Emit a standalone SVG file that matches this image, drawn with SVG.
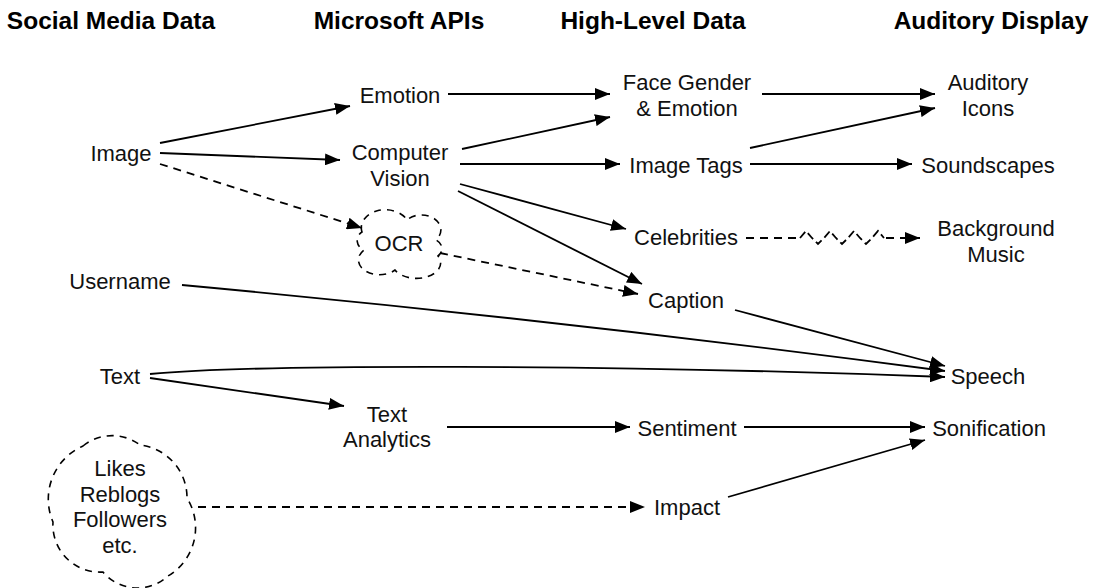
<svg xmlns="http://www.w3.org/2000/svg" width="1096" height="588" viewBox="0 0 1096 588">
<defs>
<marker id="ah" markerUnits="userSpaceOnUse" markerWidth="16" markerHeight="12" refX="15" refY="6" orient="auto">
<path d="M0,0 L15,6 L0,12 Z" fill="#000"/>
</marker>
<style>
.h{font-family:"Liberation Sans",Arial,sans-serif;font-weight:bold;font-size:24.5px;fill:#000;text-anchor:middle}
.t{font-family:"Liberation Sans",Arial,sans-serif;font-size:22px;fill:#111;text-anchor:middle}
.c{fill:none;stroke:#000;stroke-width:1.8}
.a{marker-end:url(#ah)}
.d{stroke-dasharray:8,6}
.cl{fill:none;stroke:#000;stroke-width:1.6;stroke-dasharray:7,6}
</style>
</defs>
<rect width="1096" height="588" fill="#fff"/>
<g id="headers">
<text class="h" x="111" y="29">Social Media Data</text>
<text class="h" x="399" y="29">Microsoft APIs</text>
<text class="h" x="653" y="29">High-Level Data</text>
<text class="h" x="991" y="29">Auditory Display</text>
</g>
<g id="connectors">
<path class="c a" d="M160,143 L350,106"/>
<path class="c a" d="M160,153 L340,160"/>
<path class="c a d" d="M160,164 L362,228"/>
<path class="c a" d="M448,94 L610,94"/>
<path class="c a" d="M462,149 L610,117"/>
<path class="c a" d="M460,164 L620,164"/>
<path class="c a" d="M460,184 L626,229"/>
<path class="c a" d="M458,191 L642,284"/>
<path class="c a d" d="M440,253 L638,294"/>
<path class="c a" d="M762,94 L935,94"/>
<path class="c a" d="M750,148 L935,108"/>
<path class="c a" d="M750,164 L912,164"/>
<path class="c d" d="M746,238 L800,238"/>
<path class="c" d="M800,238 L806,231 L812,238 L818,244 L824,238 L830,231 L836,238 L842,244 L848,238 L854,231 L860,238 L866,244 L872,238 L878,231 L884,238" stroke-dasharray="8,4"/>
<path class="c a d" d="M886,238 L920,238"/>
<path class="c a" d="M735,310 L945,366"/>
<path class="c a" d="M182,285 Q560,320 945,371"/>
<path class="c a" d="M150,374 C260,364 600,364 945,377"/>
<path class="c a" d="M150,378 L344,406"/>
<path class="c a" d="M447,427 L630,427"/>
<path class="c a" d="M744,427 L925,427"/>
<path class="c a d" d="M198,507 L645,507"/>
<path class="c a" d="M728,497 L925,440"/>
</g>
<g id="n-image"><text class="t" x="121" y="161">Image</text></g>
<g id="n-username"><text class="t" x="120" y="289">Username</text></g>
<g id="n-text"><text class="t" x="120" y="384">Text</text></g>
<g id="n-likes">
<path class="cl" d="M83,446 A46,46 0 0 1 140,445 A53,53 0 0 1 187,498 A56,56 0 0 1 168,576 A45,45 0 0 1 103,572 A47,47 0 0 1 53,522 A58,58 0 0 1 83,446 Z"/>
<text class="t" x="120" y="476">Likes</text>
<text class="t" x="120" y="502">Reblogs</text>
<text class="t" x="120" y="527">Followers</text>
<text class="t" x="120" y="553">etc.</text>
</g>
<g id="n-emotion"><text class="t" x="400" y="103">Emotion</text></g>
<g id="n-cv"><text class="t" x="400" y="160">Computer</text><text class="t" x="400" y="186">Vision</text></g>
<g id="n-ocr">
<path class="cl" d="M362,232 A24,18 0 0 1 407,220 A18,14 0 0 1 436,240 A12,10 0 0 1 438,256 A22,14 0 0 1 395,270 A20,14 0 0 1 364,250 A10,10 0 0 1 362,232 Z"/>
<text class="t" x="399" y="251">OCR</text>
</g>
<g id="n-ta"><text class="t" x="387" y="422">Text</text><text class="t" x="387" y="447">Analytics</text></g>
<g id="n-face"><text class="t" x="687" y="90">Face Gender</text><text class="t" x="687" y="116">&amp; Emotion</text></g>
<g id="n-tags"><text class="t" x="686" y="173">Image Tags</text></g>
<g id="n-celeb"><text class="t" x="686" y="245">Celebrities</text></g>
<g id="n-caption"><text class="t" x="686" y="308">Caption</text></g>
<g id="n-sentiment"><text class="t" x="687" y="436">Sentiment</text></g>
<g id="n-impact"><text class="t" x="687" y="515">Impact</text></g>
<g id="n-icons"><text class="t" x="988" y="90">Auditory</text><text class="t" x="988" y="116">Icons</text></g>
<g id="n-sound"><text class="t" x="988" y="173">Soundscapes</text></g>
<g id="n-music"><text class="t" x="996" y="236">Background</text><text class="t" x="996" y="262">Music</text></g>
<g id="n-speech"><text class="t" x="988" y="384">Speech</text></g>
<g id="n-sonif"><text class="t" x="989" y="436">Sonification</text></g>
</svg>
